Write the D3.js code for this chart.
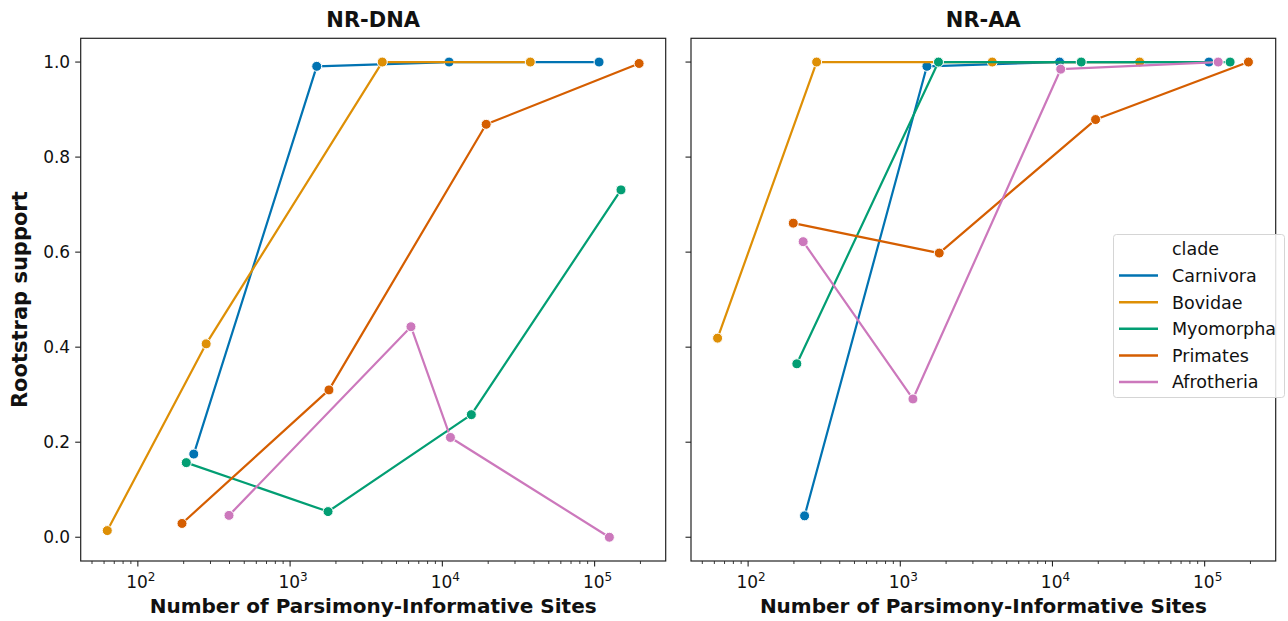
<!DOCTYPE html>
<html>
<head>
<meta charset="utf-8">
<script src="https://cdn.jsdelivr.net/npm/d3@7"></script>
<style>
  html, body { margin: 0; padding: 0; background: #fff; }
  svg { display: block; }
  text { font-family: "DejaVu Sans", sans-serif; fill: #111; }
</style>
</head>
<body>
<svg id="chart" width="1288" height="621"></svg>
<script>
// ---- data ----
const clades = ["Carnivora", "Bovidae", "Myomorpha", "Primates", "Afrotheria"];
const cladeColors = ["#0173b2", "#de8f05", "#029e73", "#d55e00", "#cc78bc"];
const panelTitles = ["NR-DNA", "NR-AA"];

// Number of parsimony-informative sites (x) and rootstrap support (y), per clade
const dnaSites = [
  [233, 1496, 11070, 107000],
  [63, 281, 4030, 37800],
  [208, 1775, 15500, 149000],
  [195, 1800, 19400, 196000],
  [397, 6220, 11300, 125000]
];
const dnaSupport = [
  [0.175, 0.991, 1.0, 1.0],
  [0.014, 0.407, 1.0, 1.0],
  [0.157, 0.054, 0.258, 0.731],
  [0.029, 0.310, 0.869, 0.997],
  [0.046, 0.443, 0.210, 0.0]
];
const aaSites = [
  [235, 1496, 11140, 106700],
  [63, 282, 4020, 37400],
  [209, 1782, 15450, 147000],
  [198, 1803, 19200, 194000],
  [230, 1211, 11330, 122800]
];
const aaSupport = [
  [0.045, 0.991, 1.0, 1.0],
  [0.419, 1.0, 1.0, 1.0],
  [0.365, 1.0, 1.0, 1.0],
  [0.661, 0.598, 0.879, 1.0],
  [0.622, 0.291, 0.985, 1.0]
];
const yTicks = [0.0, 0.2, 0.4, 0.6, 0.8, 1.0];
const xTicks = [100, 1000, 10000, 100000];
const xLabel = "Number of Parsimony-Informative Sites";
const yLabel = "Rootstrap support";
const legendTitle = "clade";

// ---- layout ----
const svg = d3.select("#chart");
const plotTop = 38.3, plotBottom = 561;
const panels = [{x0: 80.7, x1: 665.7}, {x0: 691, x1: 1275.7}];

const allX = dnaSites.flat().concat(aaSites.flat());
const lx0 = Math.log10(d3.min(allX)), lx1 = Math.log10(d3.max(allX));
const padX = 0.05 * (lx1 - lx0);
const xDomain = [Math.pow(10, lx0 - padX), Math.pow(10, lx1 + padX)];
const yDomain = [-0.05, 1.05];

const datasets = [[dnaSites, dnaSupport], [aaSites, aaSupport]];

panels.forEach((p, pi) => {
  const x = d3.scaleLog().domain(xDomain).range([p.x0, p.x1]);
  const y = d3.scaleLinear().domain(yDomain).range([plotBottom, plotTop]);
  const g = svg.append("g");

  // minor ticks
  const minor = [];
  for (let e = 1; e <= 6; e++) for (let m = 2; m <= 9; m++) {
    const v = m * Math.pow(10, e);
    if (v >= xDomain[0] && v <= xDomain[1]) minor.push(v);
  }
  g.selectAll(".minor").data(minor).join("line")
    .attr("x1", d => x(d)).attr("x2", d => x(d))
    .attr("y1", plotBottom).attr("y2", plotBottom + 3)
    .attr("stroke", "#222").attr("stroke-width", 0.9);
  // major x ticks
  g.selectAll(".majx").data(xTicks).join("line")
    .attr("x1", d => x(d)).attr("x2", d => x(d))
    .attr("y1", plotBottom).attr("y2", plotBottom + 5.5)
    .attr("stroke", "#222").attr("stroke-width", 1.1);
  const xl = g.selectAll(".xtl").data(xTicks).join("text")
    .attr("x", d => x(d) + 3).attr("y", 588)
    .attr("text-anchor", "middle").attr("font-size", 17);
  xl.append("tspan").text("10");
  xl.append("tspan").text(d => Math.round(Math.log10(d)))
    .attr("font-size", 12).attr("dy", -7);

  // y ticks
  g.selectAll(".majy").data(yTicks).join("line")
    .attr("x1", p.x0 - 5.5).attr("x2", p.x0)
    .attr("y1", d => y(d)).attr("y2", d => y(d))
    .attr("stroke", "#222").attr("stroke-width", 1.1);
  if (pi === 0) {
    g.selectAll(".ytl").data(yTicks).join("text")
      .attr("x", p.x0 - 10.5).attr("y", d => y(d)).attr("dy", "0.36em")
      .attr("text-anchor", "end").attr("font-size", 17)
      .text(d => d.toFixed(1));
    g.append("text")
      .attr("transform", `translate(26.5,${(plotTop + plotBottom) / 2}) rotate(-90)`)
      .attr("text-anchor", "middle").attr("font-size", 21).attr("font-weight", "bold")
      .text(yLabel);
  }

  // title and x label
  g.append("text").attr("x", (p.x0 + p.x1) / 2).attr("y", 27)
    .attr("text-anchor", "middle").attr("font-size", 21).attr("font-weight", "bold")
    .text(panelTitles[pi]);
  g.append("text").attr("x", (p.x0 + p.x1) / 2).attr("y", 613)
    .attr("text-anchor", "middle").attr("font-size", 20).attr("font-weight", "bold")
    .text(xLabel);

  // series
  const [xs, ys] = datasets[pi];
  const line = d3.line().x(d => x(d[0])).y(d => y(d[1]));
  clades.forEach((c, ci) => {
    const pts = xs[ci].map((v, i) => [v, ys[ci][i]]);
    g.append("path").datum(pts).attr("d", line)
      .attr("fill", "none").attr("stroke", cladeColors[ci])
      .attr("stroke-width", 2.2).attr("stroke-linejoin", "round");
    g.selectAll(null).data(pts).join("circle")
      .attr("cx", d => x(d[0])).attr("cy", d => y(d[1])).attr("r", 5)
      .attr("fill", cladeColors[ci]).attr("stroke", "#fff").attr("stroke-width", 1);
  });

  // frame
  g.append("rect").attr("x", p.x0).attr("y", plotTop)
    .attr("width", p.x1 - p.x0).attr("height", plotBottom - plotTop)
    .attr("fill", "none").attr("stroke", "#222").attr("stroke-width", 1.2);
});

// legend
const lg = svg.append("g");
lg.append("rect").attr("x", 1113.5).attr("y", 234.5).attr("width", 171).attr("height", 163)
  .attr("rx", 3).attr("fill", "#fff").attr("fill-opacity", 0.85)
  .attr("stroke", "#d5d5d5").attr("stroke-width", 1);
const legendRows = [legendTitle].concat(clades);
const rowY = i => 249 + i * 26.6;
lg.selectAll(".lt").data(legendRows).join("text")
  .attr("x", 1172).attr("y", (d, i) => rowY(i)).attr("dy", "0.36em")
  .attr("font-size", 17.5).text(d => d);
lg.selectAll(".ll").data(clades).join("line")
  .attr("x1", 1119).attr("x2", 1158)
  .attr("y1", (d, i) => rowY(i + 1)).attr("y2", (d, i) => rowY(i + 1))
  .attr("stroke", (d, i) => cladeColors[i]).attr("stroke-width", 2.5);
</script>
</body>
</html>
